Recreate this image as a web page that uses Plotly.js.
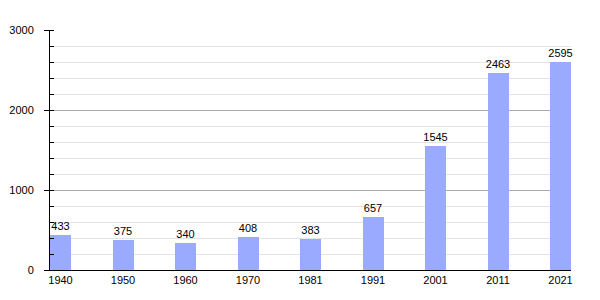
<!DOCTYPE html>
<html><head><meta charset="utf-8">
<script src="https://cdn.plot.ly/plotly-3.0.1.min.js"></script>
<style>html,body{margin:0;padding:0;background:#fff}#chart{width:600px;height:300px}</style>
</head><body><div id="chart"></div>
<script>
const years = ['1940','1950','1960','1970','1981','1991','2001','2011','2021'];
const population = [433,375,340,408,383,657,1545,2463,2595];
const yTicks = [0,1000,2000,3000];

Plotly.newPlot('chart', [{
  type: 'bar',
  x: years,
  y: population,
  text: population.map(String),
  textposition: 'outside',
  constraintext: 'none',
  cliponaxis: false,
  textfont: {family: 'Liberation Sans, Arial, sans-serif', size: 11, color: '#000'},
  marker: {color: '#99aaff'},
  width: 0.336,
  hoverinfo: 'none'
}], {
  width: 600, height: 300,
  margin: {l: 50, r: 29, t: 30, b: 30, pad: 0},
  paper_bgcolor: '#fff', plot_bgcolor: '#fff',
  font: {family: 'Liberation Sans, Arial, sans-serif', size: 11, color: '#000'},
  showlegend: false,
  bargap: 0,
  xaxis: {
    type: 'category',
    range: [-0.168, 8.168],
    showline: true, linecolor: '#000', linewidth: 1,
    ticks: '', showgrid: false, zeroline: false,
    tickfont: {size: 11, color: '#000'}
  },
  yaxis: {
    range: [0, 3000],
    tickvals: yTicks,
    ticktext: yTicks.map(String),
    showline: true, linecolor: '#000', linewidth: 1,
    ticks: 'outside', ticklen: 5, tickcolor: '#000',
    showgrid: true, gridcolor: '#aaaaaa', gridwidth: 1,
    zeroline: false,
    tickfont: {size: 11, color: '#000'},
    ticklabelstandoff: 8,
    minor: {dtick: 200, tick0: 0, ticks: 'inside', ticklen: 4, tickcolor: '#000', showgrid: true, gridcolor: '#e4e4e4', gridwidth: 1}
  }
}, {staticPlot: true, displayModeBar: false});
</script></body></html>
